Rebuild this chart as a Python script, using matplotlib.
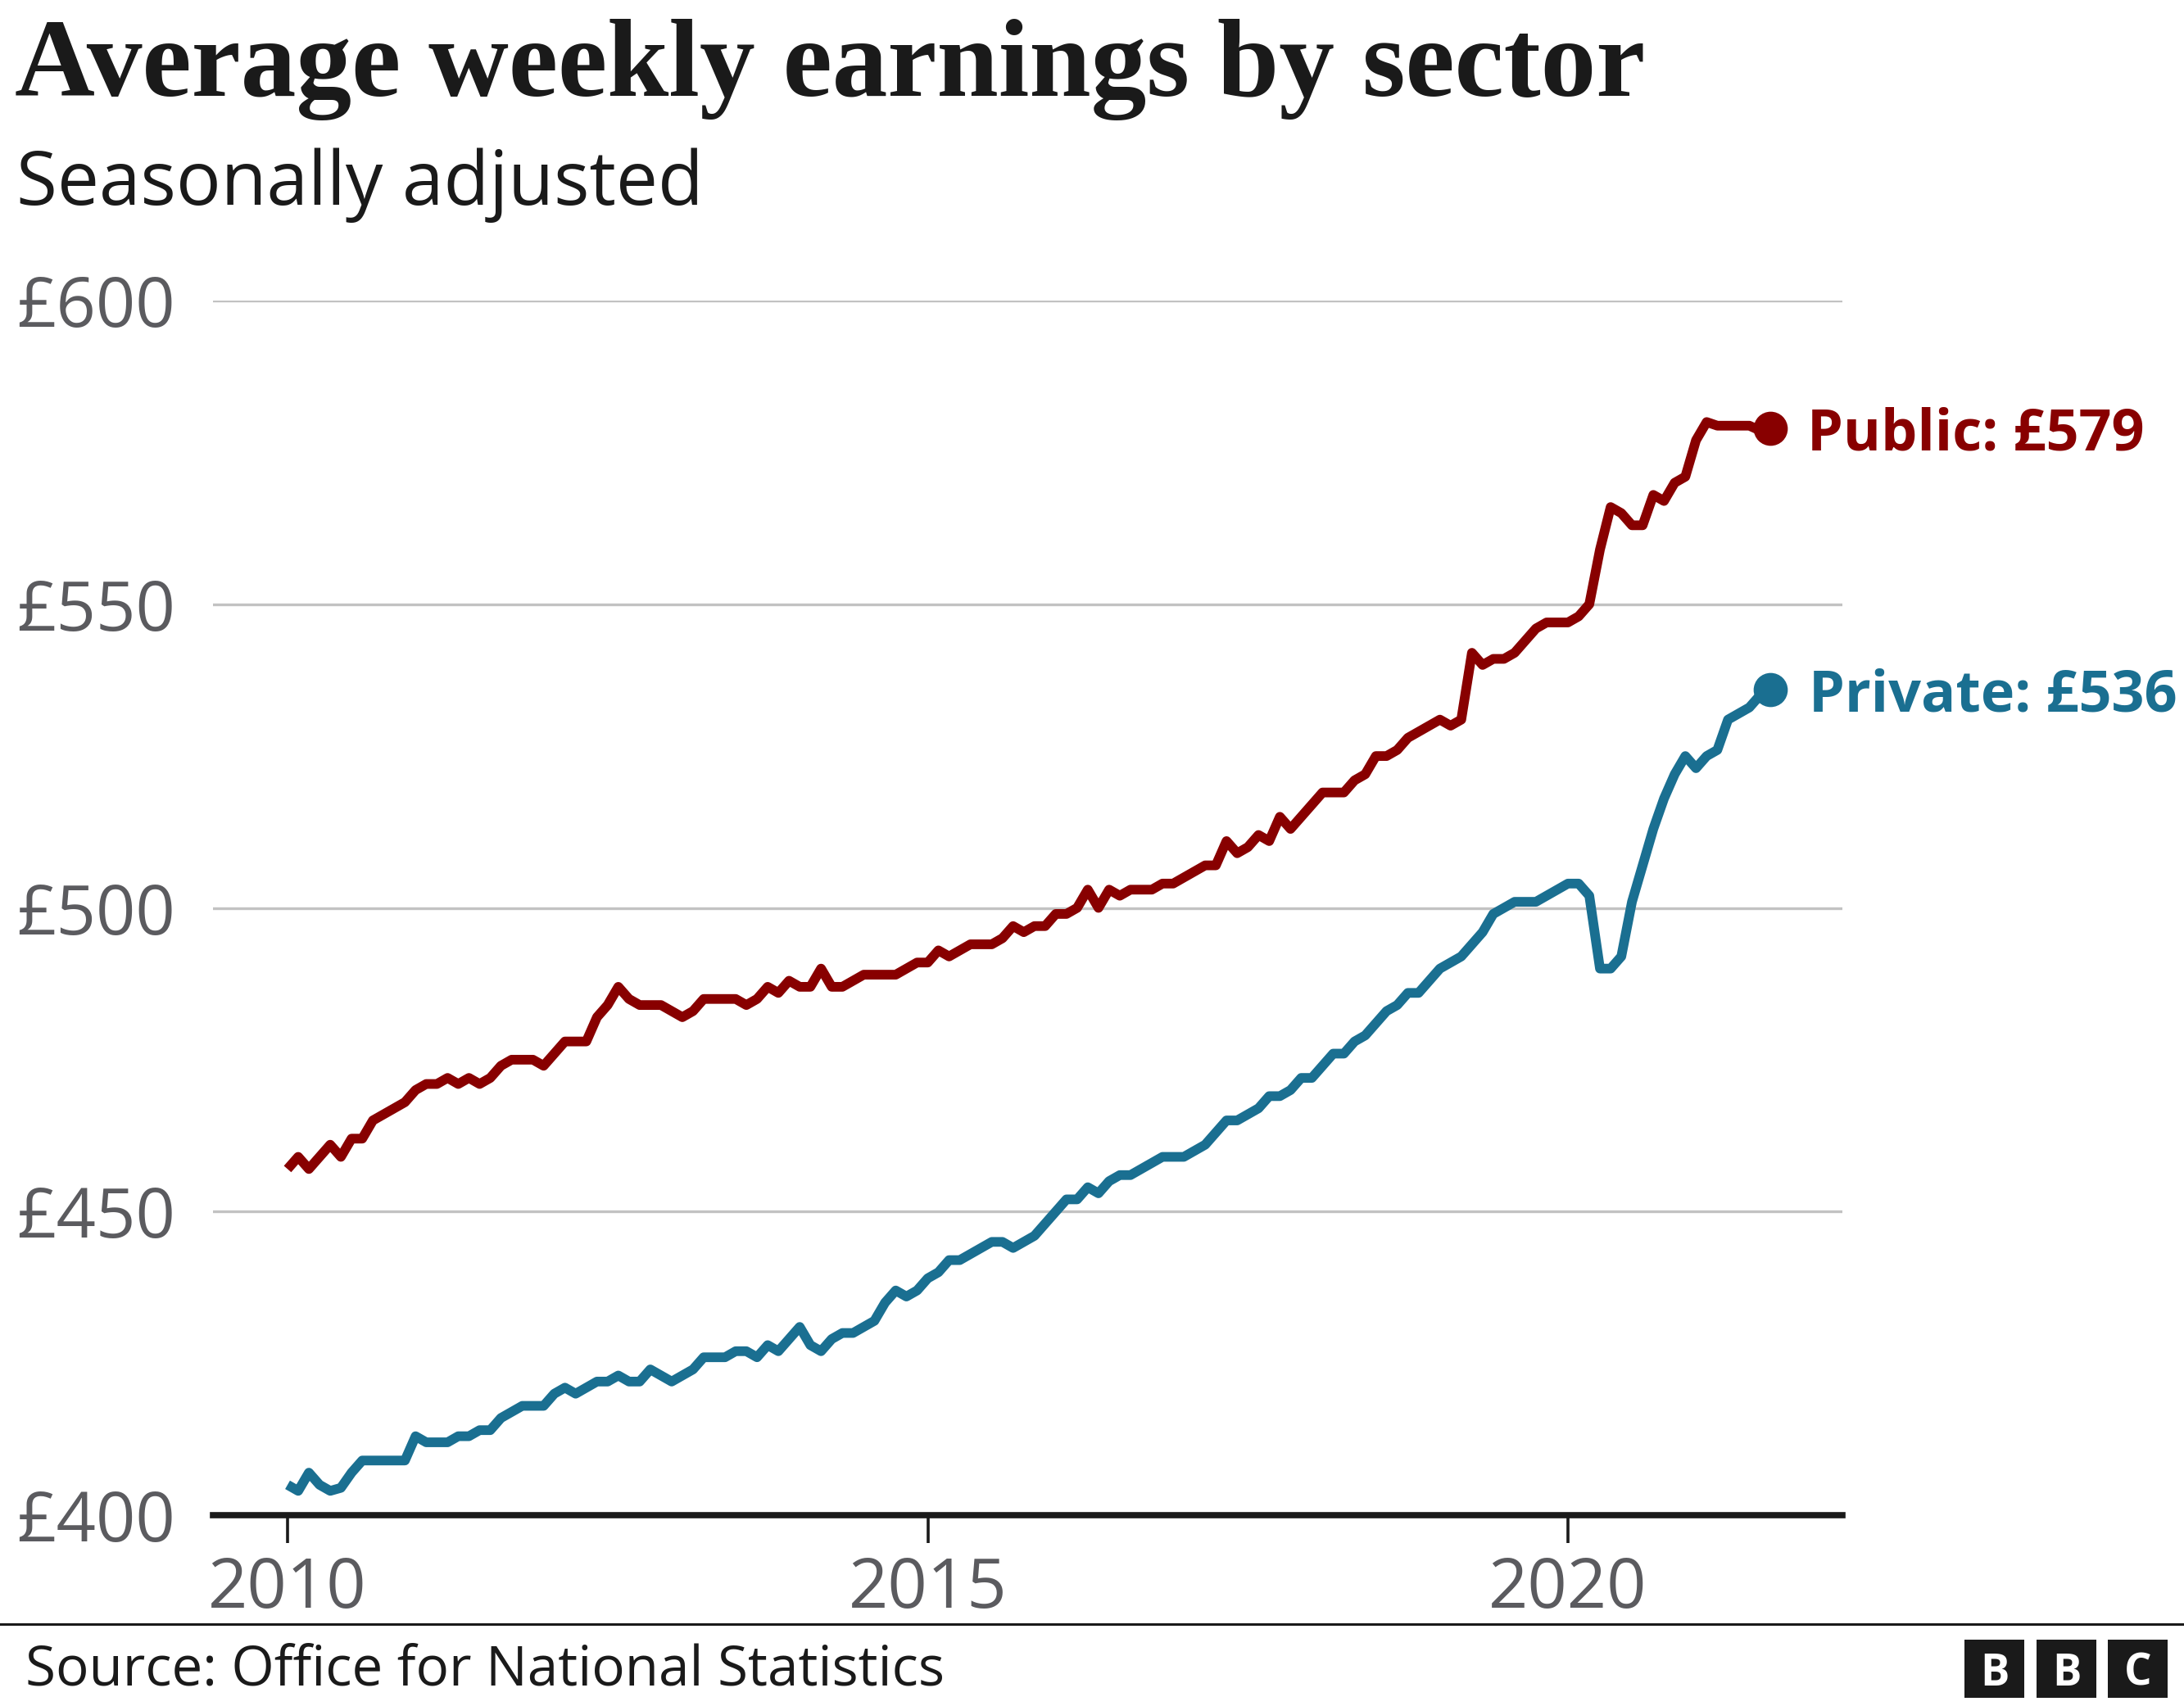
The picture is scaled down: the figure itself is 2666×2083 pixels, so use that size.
import matplotlib.pyplot as plt
from matplotlib.patches import Rectangle
from matplotlib.lines import Line2D
import numpy as np

# monthly average weekly earnings, Jan 2010 - Aug 2021
public = [457, 459, 457, 459, 461, 459, 462, 462, 465, 466, 467, 468,
          470, 471, 471, 472, 471, 472, 471, 472, 474, 475, 475, 475,
          474, 476, 478, 478, 478, 482, 484, 487, 485, 484, 484, 484,
          483, 482, 483, 485, 485, 485, 485, 484, 485, 487, 486, 488,
          487, 487, 490, 487, 487, 488, 489, 489, 489, 489, 490, 491,
          491, 493, 492, 493, 494, 494, 494, 495, 497, 496, 497, 497,
          499, 499, 500, 503, 500, 503, 502, 503, 503, 503, 504, 504,
          505, 506, 507, 507, 511, 509, 510, 512, 511, 515, 513, 515,
          517, 519, 519, 519, 521, 522, 525, 525, 526, 528, 529, 530,
          531, 530, 531, 542, 540, 541, 541, 542, 544, 546, 547, 547,
          547, 548, 550, 559, 566, 565, 563, 563, 568, 567, 570, 571,
          577, 580, 579.4, 579.4, 579.4, 579.4, 578.6, 579]
private = [405, 404, 407, 405, 404, 404.5, 407, 409, 409, 409, 409, 409,
           413, 412, 412, 412, 413, 413, 414, 414, 416, 417, 418, 418,
           418, 420, 421, 420, 421, 422, 422, 423, 422, 422, 424, 423,
           422, 423, 424, 426, 426, 426, 427, 427, 426, 428, 427, 429,
           431, 428, 427, 429, 430, 430, 431, 432, 435, 437, 436, 437,
           439, 440, 442, 442, 443, 444, 445, 445, 444, 445, 446, 448,
           450, 452, 452, 454, 453, 455, 456, 456, 457, 458, 459, 459,
           459, 460, 461, 463, 465, 465, 466, 467, 469, 469, 470, 472,
           472, 474, 476, 476, 478, 479, 481, 483, 484, 486, 486, 488,
           490, 491, 492, 494, 496, 499, 500, 501, 501, 501, 502, 503,
           504, 504, 502, 490, 490, 492, 501, 507, 513, 518, 522, 525,
           523, 525, 526, 531, 532, 533, 535, 536]
years = 2010 + np.arange(len(public)) / 12
yticks = [400, 450, 500, 550, 600]
xticks = [2010, 2015, 2020]

RED = '#880000'
BLUE = '#1a6f91'
GREY = '#5b5b5f'
INK = '#1a1a1a'

W, H = 2666, 2083
plt.rcParams['font.family'] = ['Open Sans', 'DejaVu Sans']
fig = plt.figure(figsize=(W / 100, H / 100), dpi=100)

ax = fig.add_axes([260 / W, 1 - 1850 / H, (2249 - 260) / W, (1850 - 367) / H])
ax.set_xlim(2010 - 91 / 156.3, 2010 + 1898 / 156.3)
ax.set_ylim(400, 600)
for s in ax.spines.values():
    s.set_visible(False)

for v in yticks[1:]:
    ax.axhline(v, color='#c2c2c2', lw=2.4, zorder=0)
ax.axhline(400, color=INK, lw=5.5, zorder=3, clip_on=False)

ax.plot(years, public, color=RED, lw=8.5, solid_joinstyle='round', solid_capstyle='butt', zorder=4)
ax.plot(years, private, color=BLUE, lw=8.5, solid_joinstyle='round', solid_capstyle='butt', zorder=4)
ax.plot(years[-1], public[-1], 'o', ms=29, color=RED, clip_on=False, zorder=5)
ax.plot(years[-1], private[-1], 'o', ms=29, color=BLUE, clip_on=False, zorder=5)

ax.annotate(f'Public: £{public[-1]:.0f}', (years[-1], public[-1]), xytext=(45, 0),
            textcoords='offset pixels', ha='left', va='center_baseline',
            fontsize=50.5, fontweight='bold', color=RED, annotation_clip=False)
ax.annotate(f'Private: £{private[-1]:.0f}', (years[-1], private[-1]), xytext=(47, 0),
            textcoords='offset pixels', ha='left', va='center_baseline',
            fontsize=50.5, fontweight='bold', color=BLUE, annotation_clip=False)

ax.set_yticks(yticks)
ax.set_yticklabels([f'£{v}' for v in yticks])
ax.tick_params(axis='y', length=0, pad=173, labelsize=61, labelcolor=GREY)
for lab in ax.get_yticklabels():
    lab.set_horizontalalignment('left')

ax.set_xticks(xticks)
ax.set_xticklabels([str(v) for v in xticks])
ax.tick_params(axis='x', length=24.5, width=2.6, color=INK, pad=11,
               labelsize=61, labelcolor=GREY)

fig.text(18 / W, 1 - 117 / H, 'Average weekly earnings by sector',
         family='Liberation Serif', weight='bold', fontsize=97.5, color=INK, va='baseline')
fig.text(20 / W, 1 - 250 / H, 'Seasonally adjusted', fontsize=65.5, color=INK, va='baseline')

fig.add_artist(Line2D([0, 1], [1 - 1983 / H] * 2, transform=fig.transFigure, color=INK, lw=2.2))
fig.text(31 / W, 1 - 2057 / H, 'Source: Office for National Statistics',
         fontsize=48.5, color=INK, va='baseline')

for x0, letter in [(2398, 'B'), (2486, 'B'), (2573, 'C')]:
    fig.add_artist(Rectangle((x0 / W, 1 - 2073 / H), 73 / W, 71 / H,
                             transform=fig.transFigure, color=INK, lw=0))
    fig.text((x0 + 36.5) / W, 1 - 2037.5 / H, letter, color='white', fontsize=38,
             fontweight='bold', ha='center', va='center_baseline')

fig.savefig('out.png', dpi=100)
